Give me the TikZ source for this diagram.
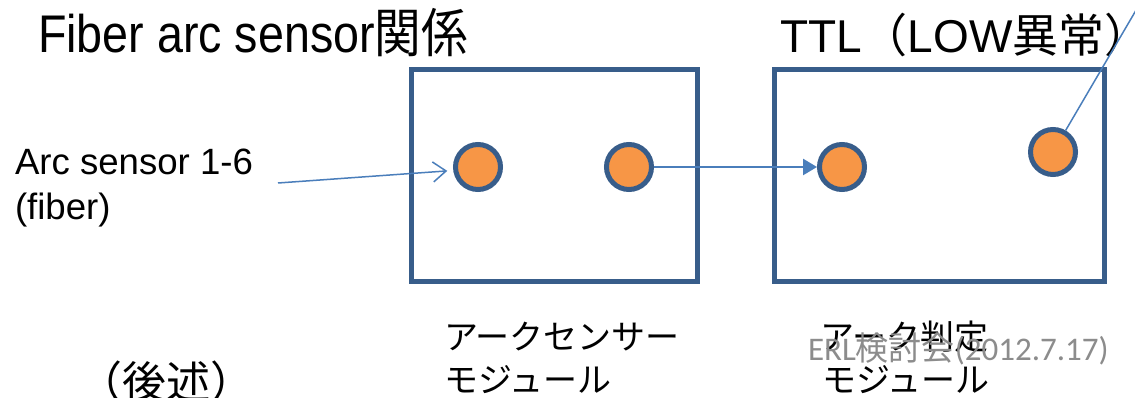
\documentclass[tikz,border=0pt]{standalone}
\usepackage{fontspec}
\usepackage{graphicx}
\setmainfont{Liberation Sans}
\newfontfamily\jp{Noto Sans CJK JP}
\newfontfamily\calib{Carlito}
\usetikzlibrary{arrows.meta}
\definecolor{boxblue}{HTML}{385D8A}
\definecolor{dotorange}{HTML}{F79646}
\definecolor{lineblue}{HTML}{4A7EBB}
\definecolor{notegray}{HTML}{8C8C8C}
\tikzset{
  modbox/.style={draw=boxblue, line width=5pt, inner sep=0pt, fill=white},
  dot/.style={circle, draw=boxblue, fill=dotorange, line width=5pt, minimum size=45pt, inner sep=0pt},
  fiberlink/.style={draw=lineblue, line width=1.5pt, -{Straight Barb[length=13pt,width=20pt,line width=1.5pt]}, shorten >=6pt},
  sigarrow/.style={draw=lineblue, line width=2.5pt, -{Triangle[length=14pt,width=16pt]}},
  sigline/.style={draw=lineblue, line width=1.5pt},
  lbl/.style={anchor=base west, inner sep=0pt, outer sep=0pt},
}
\begin{document}
\begin{tikzpicture}[x=1pt,y=-1pt]
\useasboundingbox (0,0) rectangle (1135,398);
\clip (0,0) rectangle (1135,398);
\fill[white] (0,0) rectangle (1135,398);

% titles
\node[lbl] (t1) at (38,53) {\scalebox{0.88}[1]{\fontsize{53}{60}\selectfont Fiber arc sensor{\jp 関係}}};
\node[lbl] (t2) at (780,53) {\fontsize{46}{52}\selectfont TTL{\jp （}LOW{\jp 異常）}};

% boxes
\node[modbox, minimum width=286.5pt, minimum height=211pt] (b1) at (554.25,175.5) {};
\node[modbox, minimum width=330pt, minimum height=211pt] (b2) at (939,175.5) {};

% dots
\node[dot] (c1) at (478,167) {};
\node[dot] (c2) at (629,167) {};
\node[dot] (c3) at (842,167) {};
\node[dot] (c4) at (1053,152) {};

% fiber label
\node[lbl] (f1) at (15,175) {\fontsize{36.6}{44}\selectfont Arc sensor 1-6};
\node[lbl] (f2) at (15,219) {\fontsize{36.6}{44}\selectfont (fiber)};

% connectors
\coordinate (fs) at (278,183);
\draw[fiberlink] (fs) -- (c1.188);
\draw[sigarrow] (c2) -- (c3);
\coordinate (ce) at (1142,0);
\draw[sigline] (c4) -- (ce);

% module labels
\node[lbl] (m1a) at (444,349) {\jp\fontsize{34}{40}\selectfont アークセンサー};
\node[lbl] (m1b) at (444,392) {\jp\fontsize{34}{40}\selectfont モジュール};
\node[lbl] (m2a) at (820,349) {\jp\fontsize{34}{40}\selectfont アーク判定};
\node[lbl] (m2b) at (822,392) {\jp\fontsize{34}{40}\selectfont モジュール};

% footnote
\node[lbl, text=notegray] (erl) at (808,360) {\fontsize{33}{38}\selectfont\calib ERL{\jp 検討会}(2012.7.17)};

% later
\node[lbl] (later) at (78,398) {\jp\fontsize{44}{50}\selectfont （後述）};
\end{tikzpicture}
\end{document}
